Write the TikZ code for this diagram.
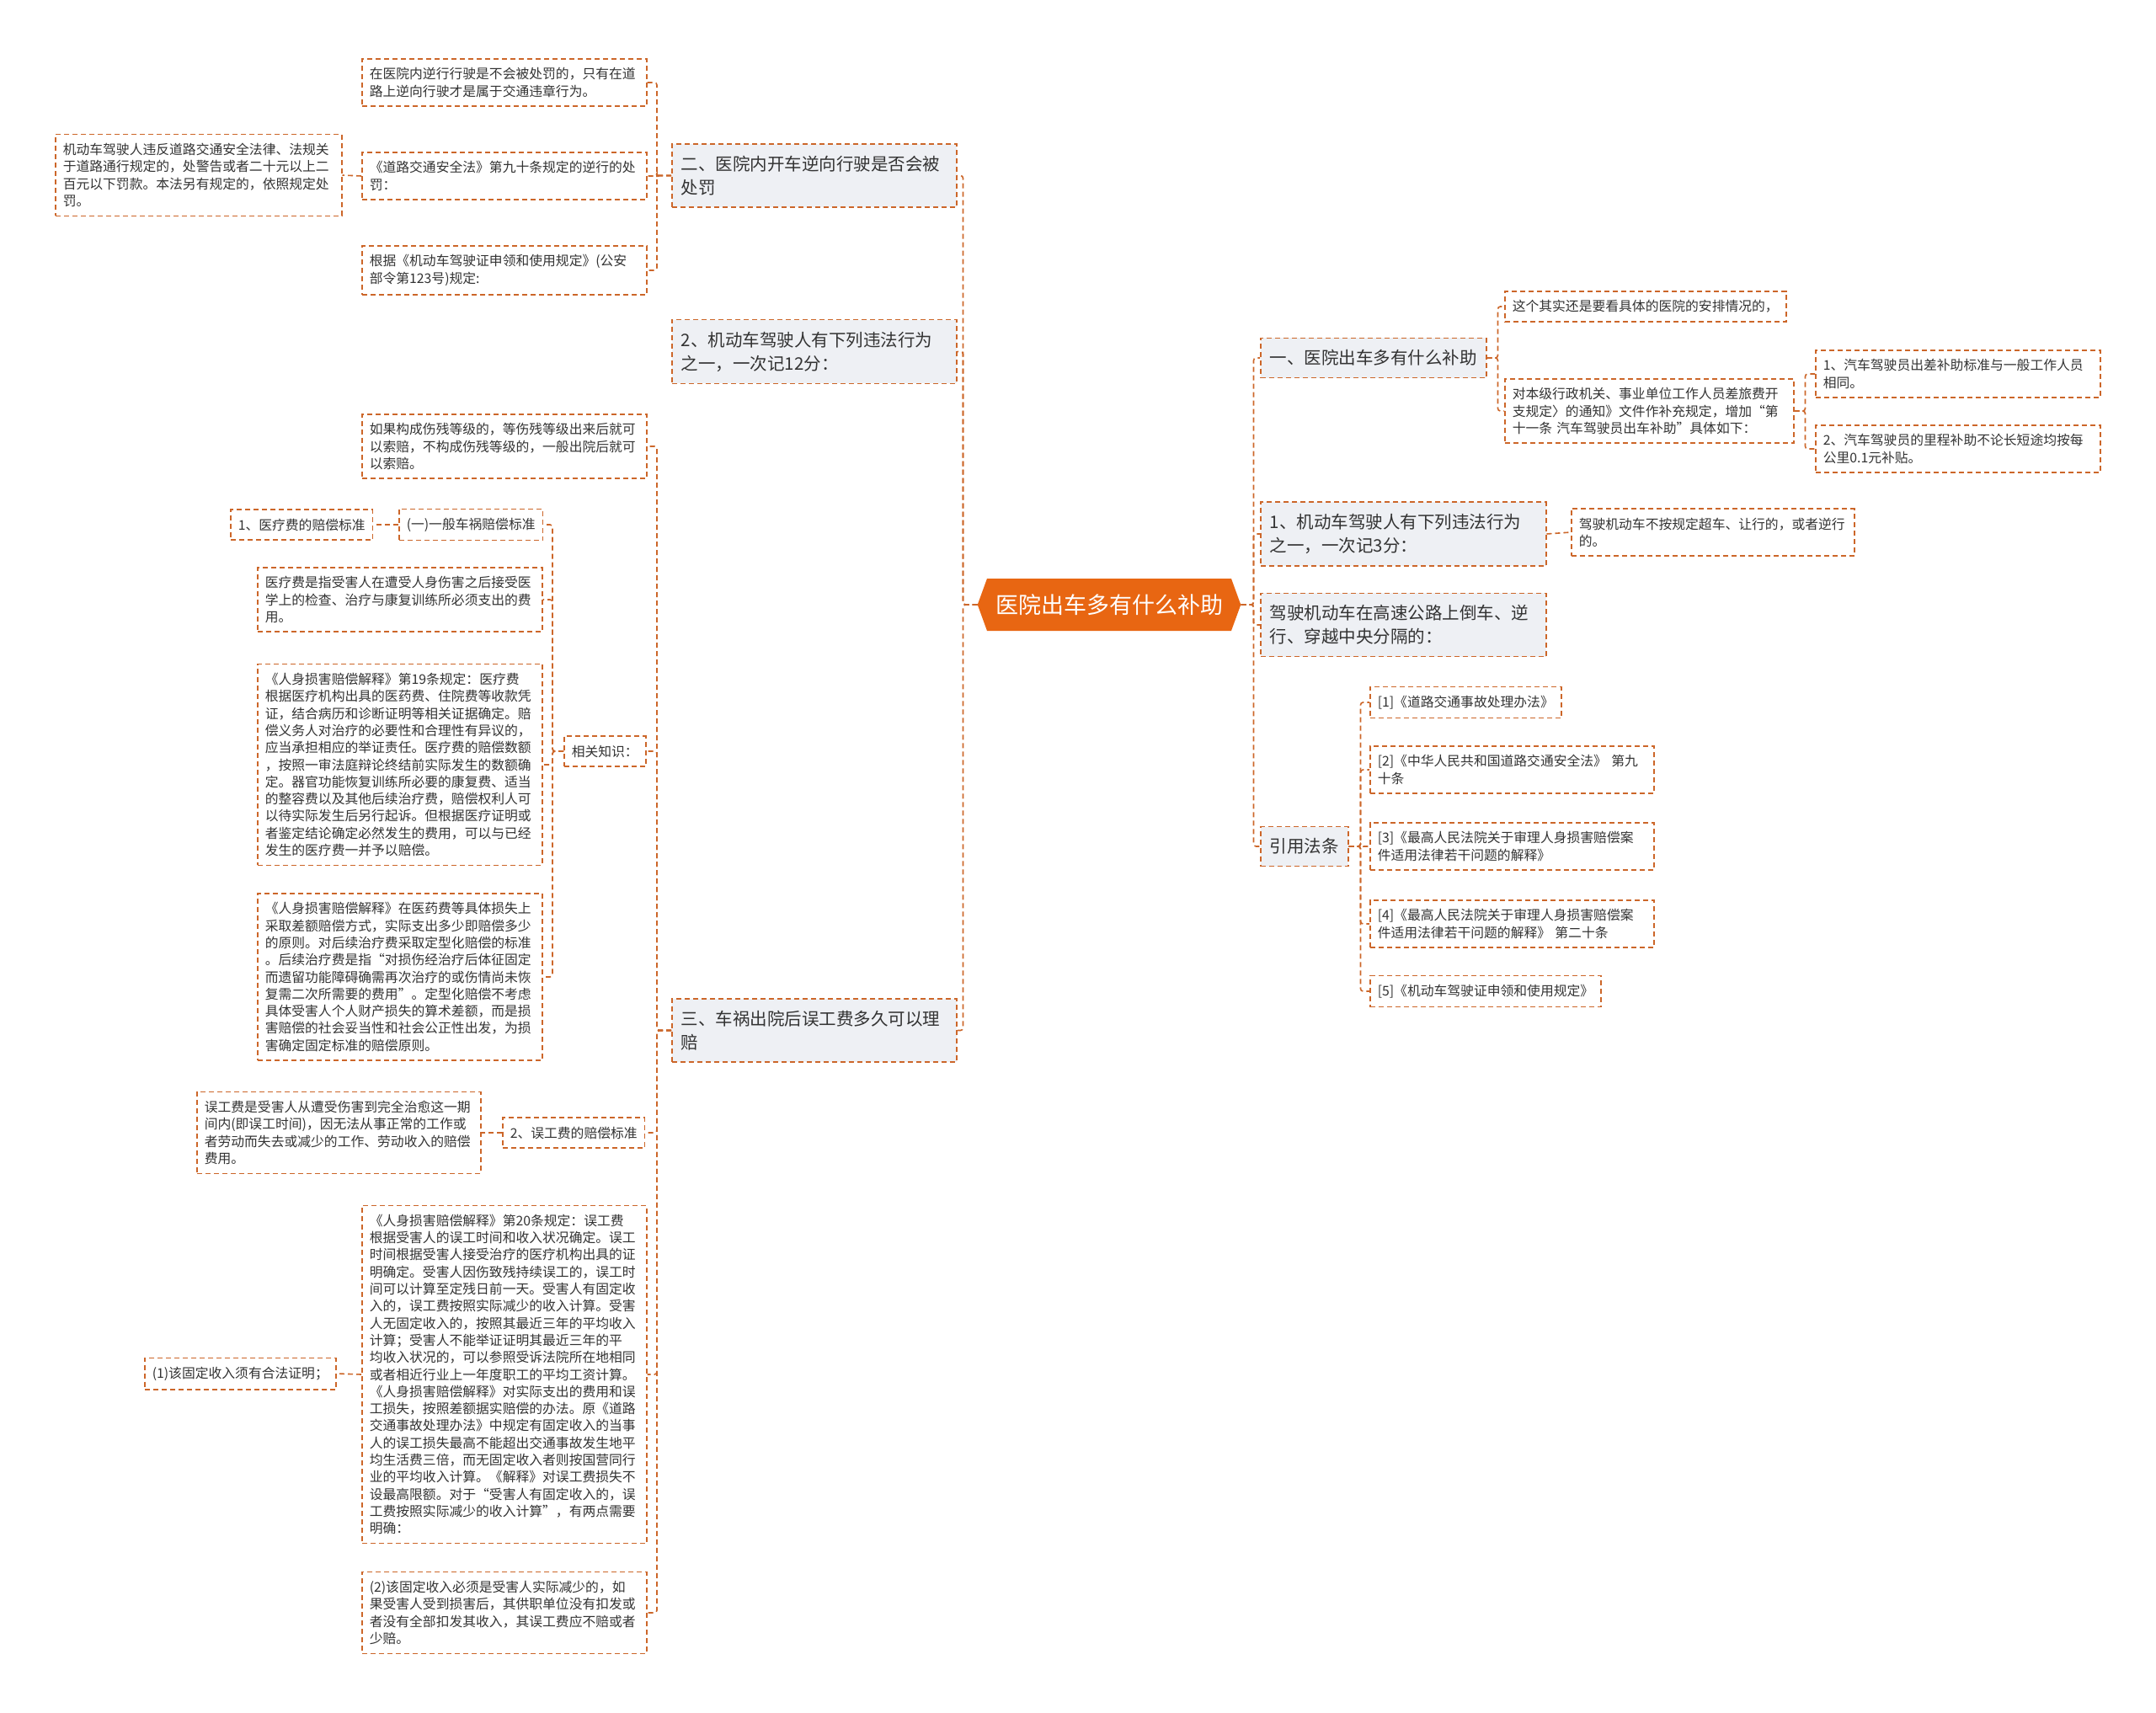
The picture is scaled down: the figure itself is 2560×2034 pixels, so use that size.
\documentclass[tikz,border=0pt]{standalone}
\usepackage{fontspec}
\setmainfont{Noto Sans CJK SC}
\usetikzlibrary{shapes.symbols}
\definecolor{linkc}{RGB}{204,102,41}
\definecolor{topicfill}{RGB}{238,240,244}
\definecolor{rootfill}{RGB}{232,102,18}
\definecolor{textc}{RGB}{51,51,51}

\begin{document}
\begin{tikzpicture}[x=1pt, y=-1pt,
    root/.style={shape=signal, signal to=west and east, signal pointer angle=140, fill=rootfill, text=white, minimum width=280pt, minimum height=62pt, inner xsep=10pt, font=\fontsize{27}{32}\selectfont},
    topic/.style={draw=linkc, dash pattern=on 6pt off 4pt, line width=1.5pt, fill=topicfill, text=textc, anchor=west, align=left, inner xsep=11pt, inner ysep=14pt, font=\fontsize{20.5}{28}\selectfont},
    leaf/.style={draw=linkc, dash pattern=on 6pt off 4pt, line width=1.5pt, text=textc, anchor=west, align=left, inner xsep=9pt, inner ysep=10.5pt, font=\fontsize{15.8}{20.3}\selectfont},
    link/.style={draw=linkc, dash pattern=on 6pt off 4pt, line width=1.6pt, rounded corners=3pt}
]
    \useasboundingbox[fill=white] (0,0) rectangle (2560,2034);

    \node[root] (root) at (1317,718) {医院出车多有什么补助};

    \node[topic, text width=316pt] (l1) at (797,208.5)  {二、医院内开车逆向行驶是否会被\\处罚};
    \node[topic, text width=316pt] (l2) at (797,417.5)  {2、机动车驾驶人有下列违法行为\\之一，一次记12分：};
    \node[topic, text width=316pt] (l3) at (797,1223.5) {三、车祸出院后误工费多久可以理\\赔};

    \node[leaf, text width=320pt] (a1)  at (429,98)  {在医院内逆行行驶是不会被处罚的，只有在道\\路上逆向行驶才是属于交通违章行为。};
    \node[leaf, text width=320pt] (a2)  at (429,209) {《道路交通安全法》第九十条规定的逆行的处\\罚：};
    \node[leaf, text width=322pt] (a2a) at (65,208)  {机动车驾驶人违反道路交通安全法律、法规关\\于道路通行规定的，处警告或者二十元以上二\\百元以下罚款。本法另有规定的，依照规定处\\罚。};
    \node[leaf, text width=320pt] (a3)  at (429,321) {根据《机动车驾驶证申领和使用规定》(公安\\部令第123号)规定:};

    \node[leaf, text width=320pt] (c1)   at (429,530)  {如果构成伤残等级的，等伤残等级出来后就可\\以索赔，不构成伤残等级的，一般出院后就可\\以索赔。};
    \node[leaf]                   (c2)   at (669,892)  {相关知识：};
    \node[leaf]                   (c2a)  at (473,623)  {(一)一般车祸赔偿标准};
    \node[leaf]                   (c2a1) at (273,623)  {1、医疗费的赔偿标准};
    \node[leaf, text width=320pt] (c2b)  at (305,712)  {医疗费是指受害人在遭受人身伤害之后接受医\\学上的检查、治疗与康复训练所必须支出的费\\用。};
    \node[leaf, text width=320pt] (c2c)  at (305,908)  {《人身损害赔偿解释》第19条规定：医疗费\\根据医疗机构出具的医药费、住院费等收款凭\\证，结合病历和诊断证明等相关证据确定。赔\\偿义务人对治疗的必要性和合理性有异议的，\\应当承担相应的举证责任。医疗费的赔偿数额\\，按照一审法庭辩论终结前实际发生的数额确\\定。器官功能恢复训练所必要的康复费、适当\\的整容费以及其他后续治疗费，赔偿权利人可\\以待实际发生后另行起诉。但根据医疗证明或\\者鉴定结论确定必然发生的费用，可以与已经\\发生的医疗费一并予以赔偿。};
    \node[leaf, text width=320pt] (c2d)  at (305,1160) {《人身损害赔偿解释》在医药费等具体损失上\\采取差额赔偿方式，实际支出多少即赔偿多少\\的原则。对后续治疗费采取定型化赔偿的标准\\。后续治疗费是指“对损伤经治疗后体征固定\\而遗留功能障碍确需再次治疗的或伤情尚未恢\\复需二次所需要的费用”。定型化赔偿不考虑\\具体受害人个人财产损失的算术差额，而是损\\害赔偿的社会妥当性和社会公正性出发，为损\\害确定固定标准的赔偿原则。};
    \node[leaf]                   (c3)   at (596,1345) {2、误工费的赔偿标准};
    \node[leaf, text width=319pt] (c3a)  at (233,1345) {误工费是受害人从遭受伤害到完全治愈这一期\\间内(即误工时间)，因无法从事正常的工作或\\者劳动而失去或减少的工作、劳动收入的赔偿\\费用。};
    \node[leaf, text width=320pt] (c4)   at (429,1632) {《人身损害赔偿解释》第20条规定：误工费\\根据受害人的误工时间和收入状况确定。误工\\时间根据受害人接受治疗的医疗机构出具的证\\明确定。受害人因伤致残持续误工的，误工时\\间可以计算至定残日前一天。受害人有固定收\\入的，误工费按照实际减少的收入计算。受害\\人无固定收入的，按照其最近三年的平均收入\\计算；受害人不能举证证明其最近三年的平\\均收入状况的，可以参照受诉法院所在地相同\\或者相近行业上一年度职工的平均工资计算。\\《人身损害赔偿解释》对实际支出的费用和误\\工损失，按照差额据实赔偿的办法。原《道路\\交通事故处理办法》中规定有固定收入的当事\\人的误工损失最高不能超出交通事故发生地平\\均生活费三倍，而无固定收入者则按国营同行\\业的平均收入计算。《解释》对误工费损失不\\设最高限额。对于“受害人有固定收入的，误\\工费按照实际减少的收入计算”，有两点需要\\明确：};
    \node[leaf]                   (c4a)  at (171,1631) {(1)该固定收入须有合法证明；};
    \node[leaf, text width=320pt] (c5)   at (429,1915) {(2)该固定收入必须是受害人实际减少的，如\\果受害人受到损害后，其供职单位没有扣发或\\者没有全部扣发其收入，其误工费应不赔或者\\少赔。};

    \node[topic]                  (r1)   at (1496,425)  {一、医院出车多有什么补助};
    \node[leaf]                   (r1a)  at (1786,364)  {这个其实还是要看具体的医院的安排情况的，};
    \node[leaf, text width=325pt] (r1b)  at (1786,488)  {对本级行政机关、事业单位工作人员差旅费开\\支规定〉的通知》文件作补充规定，增加“第\\十一条~汽车驾驶员出车补助”具体如下：};
    \node[leaf, text width=320pt] (r1b1) at (2155,444)  {1、汽车驾驶员出差补助标准与一般工作人员\\相同。};
    \node[leaf, text width=320pt] (r1b2) at (2155,533)  {2、汽车驾驶员的里程补助不论长短途均按每\\公里0.1元补贴。};
    \node[topic, text width=317pt] (r2)  at (1496,634)  {1、机动车驾驶人有下列违法行为\\之一，一次记3分：};
    \node[leaf, text width=318pt] (r2a)  at (1865,632)  {驾驶机动车不按规定超车、让行的，或者逆行\\的。};
    \node[topic, text width=317pt] (r3)  at (1496,742)  {驾驶机动车在高速公路上倒车、逆\\行、穿越中央分隔的：};
    \node[topic]                  (r4)   at (1496,1005) {引用法条};
    \node[leaf]                   (r4a)  at (1626,834)  {[1]《道路交通事故处理办法》};
    \node[leaf, text width=319pt] (r4b)  at (1626,914)  {[2]《中华人民共和国道路交通安全法》~第九\\十条};
    \node[leaf, text width=319pt] (r4c)  at (1626,1005) {[3]《最高人民法院关于审理人身损害赔偿案\\件适用法律若干问题的解释》};
    \node[leaf, text width=319pt] (r4d)  at (1626,1097) {[4]《最高人民法院关于审理人身损害赔偿案\\件适用法律若干问题的解释》~第二十条};
    \node[leaf]                   (r4e)  at (1626,1177) {[5]《机动车驾驶证申领和使用规定》};

    \draw[link] (root.west) -- ++(-17,0) |- (l1.east);
    \draw[link] (root.west) -- ++(-17,0) |- (l2.east);
    \draw[link] (root.west) -- ++(-17,0) |- (l3.east);
    \draw[link] (root.east) -- ++(15,0) |- (r1.west);
    \draw[link] (root.east) -- ++(15,0) |- (r2.west);
    \draw[link] (root.east) -- ++(15,0) |- (r3.west);
    \draw[link] (root.east) -- ++(15,0) |- (r4.west);

    \draw[link] (l1.west) -- ++(-17,0) |- (a1.east);
    \draw[link] (l1.west) -- ++(-17,0) |- (a2.east);
    \draw[link] (l1.west) -- ++(-17,0) |- (a3.east);
    \draw[link] (a2.west) -- (a2a.east);

    \draw[link] (l3.west) -- ++(-17,0) |- (c1.east);
    \draw[link] (l3.west) -- ++(-17,0) |- (c2.east);
    \draw[link] (l3.west) -- ++(-17,0) |- (c3.east);
    \draw[link] (l3.west) -- ++(-17,0) |- (c4.east);
    \draw[link] (l3.west) -- ++(-17,0) |- (c5.east);
    \draw[link] (c2.west) -- ++(-13,0) |- (c2a.east);
    \draw[link] (c2.west) -- ++(-13,0) |- (c2b.east);
    \draw[link] (c2.west) -- ++(-13,0) |- (c2c.east);
    \draw[link] (c2.west) -- ++(-13,0) |- (c2d.east);
    \draw[link] (c2a.west) -- (c2a1.east);
    \draw[link] (c3.west) -- (c3a.east);
    \draw[link] (c4.west) -- (c4a.east);

    \draw[link] (r1.east) -- ++(13,0) |- (r1a.west);
    \draw[link] (r1.east) -- ++(13,0) |- (r1b.west);
    \draw[link] (r1b.east) -- ++(13,0) |- (r1b1.west);
    \draw[link] (r1b.east) -- ++(13,0) |- (r1b2.west);
    \draw[link] (r2.east) -- (r2a.west);
    \draw[link] (r4.east) -- ++(14,0) |- (r4a.west);
    \draw[link] (r4.east) -- ++(14,0) |- (r4b.west);
    \draw[link] (r4.east) -- ++(14,0) |- (r4c.west);
    \draw[link] (r4.east) -- ++(14,0) |- (r4d.west);
    \draw[link] (r4.east) -- ++(14,0) |- (r4e.west);
\end{tikzpicture}
\end{document}
